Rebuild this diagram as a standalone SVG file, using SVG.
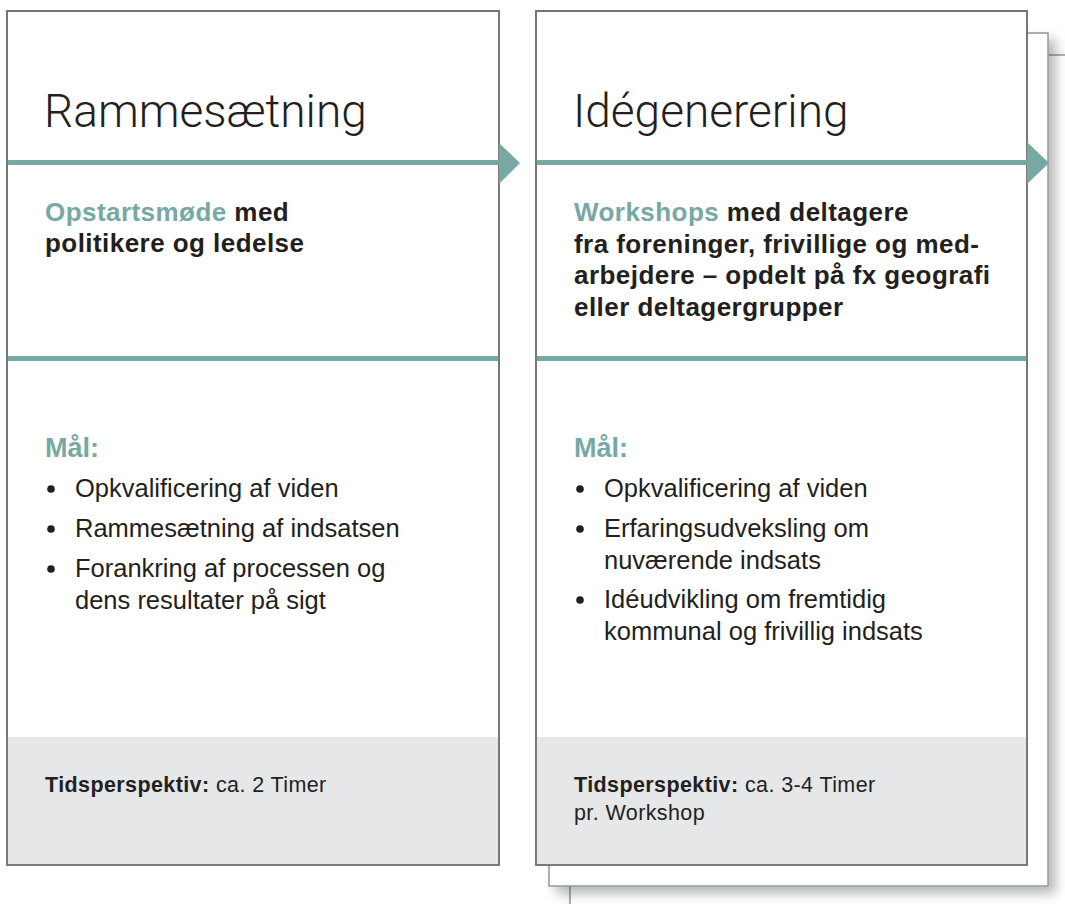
<svg xmlns="http://www.w3.org/2000/svg" width="1065" height="904" viewBox="0 0 1065 904">
<style>
.card{fill:#ffffff;stroke:#6d6e71;stroke-width:1.5}
.back{fill:#ffffff;stroke:#8a9c9e;stroke-width:1.5}
.foot{fill:#e6e7e8}
.rule{fill:#76a8a4}
.title{font-family:"Roboto","Inter","Liberation Sans",sans-serif;font-weight:300;font-size:46px;fill:#231f20}
.sub{font-family:"Liberation Sans",Arial,sans-serif;font-weight:bold;font-size:26px;letter-spacing:0.45px;fill:#231f20}
.teal{fill:#76a8a4}
.mal{font-family:"Liberation Sans Narrow","Liberation Sans",sans-serif;font-weight:bold;font-size:27px;fill:#76a8a4}
.body{font-family:"Liberation Sans",Arial,sans-serif;font-size:25.5px;fill:#231f20}
.time{font-family:"Liberation Sans",Arial,sans-serif;font-size:21.5px;letter-spacing:0.4px;fill:#231f20}
.b{font-weight:bold}
.dot{fill:#231f20}
</style>
<defs>
<filter id="sh" x="-5%" y="-5%" width="115%" height="115%">
<feDropShadow dx="7" dy="7" stdDeviation="6" flood-color="#000" flood-opacity="0.28"/>
</filter>
</defs>
<g id="stack">
<rect class="back" x="570" y="55" width="520" height="880" filter="url(#sh)"/>
<rect class="back" x="549" y="33" width="499" height="853" filter="url(#sh)"/>
</g>
<g id="card1">
<rect class="card" x="7" y="11" width="492" height="854"/>
<rect class="foot" x="7.75" y="737" width="490.5" height="127.25"/>
<rect class="card" x="7" y="11" width="492" height="854" style="fill:none"/>
<text class="title" x="44" y="127">Rammesætning</text>
<text class="sub" x="45" y="221"><tspan class="teal">Opstartsmøde</tspan> med</text>
<text class="sub" x="45" y="252">politikere og ledelse</text>
<text class="mal" x="45" y="457">Mål:</text>
<circle class="dot" cx="51" cy="489" r="3.8"/>
<text class="body" x="75" y="497">Opkvalificering af viden</text>
<circle class="dot" cx="51" cy="529" r="3.8"/>
<text class="body" x="75" y="537">Rammesætning af indsatsen</text>
<circle class="dot" cx="51" cy="569" r="3.8"/>
<text class="body" x="75" y="577">Forankring af processen og</text>
<text class="body" x="75" y="609">dens resultater på sigt</text>
<text class="time" x="45" y="792"><tspan class="b">Tidsperspektiv:</tspan> ca. 2 Timer</text>
</g>
<g id="card2">
<rect class="card" x="536" y="11" width="491" height="854"/>
<rect class="foot" x="536.75" y="737" width="489.5" height="127.25"/>
<rect class="card" x="536" y="11" width="491" height="854" style="fill:none"/>
<text class="title" x="573" y="127">Idégenerering</text>
<text class="sub" x="574" y="221"><tspan class="teal">Workshops</tspan> med deltagere</text>
<text class="sub" x="574" y="252.5">fra foreninger, frivillige og med-</text>
<text class="sub" x="574" y="284">arbejdere – opdelt på fx geografi</text>
<text class="sub" x="574" y="315.5">eller deltagergrupper</text>
<text class="mal" x="574" y="457">Mål:</text>
<circle class="dot" cx="580" cy="489" r="3.8"/>
<text class="body" x="604" y="497">Opkvalificering af viden</text>
<circle class="dot" cx="580" cy="529" r="3.8"/>
<text class="body" x="604" y="537">Erfaringsudveksling om</text>
<text class="body" x="604" y="569">nuværende indsats</text>
<circle class="dot" cx="580" cy="600" r="3.8"/>
<text class="body" x="604" y="608">Idéudvikling om fremtidig</text>
<text class="body" x="604" y="640">kommunal og frivillig indsats</text>
<text class="time" x="574" y="792"><tspan class="b">Tidsperspektiv:</tspan> ca. 3-4 Timer</text>
<text class="time" x="574" y="820">pr. Workshop</text>
</g>
<g id="connectors">
<rect class="rule" x="7.75" y="160" width="491.25" height="5"/>
<polygon class="rule" points="499,143 520,163 499,184"/>
<rect class="rule" x="7.75" y="356" width="490.5" height="5"/>
<rect class="rule" x="536.75" y="160" width="490.25" height="5"/>
<polygon class="rule" points="1027,142 1049,163 1027,184"/>
<rect class="rule" x="536.75" y="356" width="489.5" height="5"/>
</g>
</svg>
